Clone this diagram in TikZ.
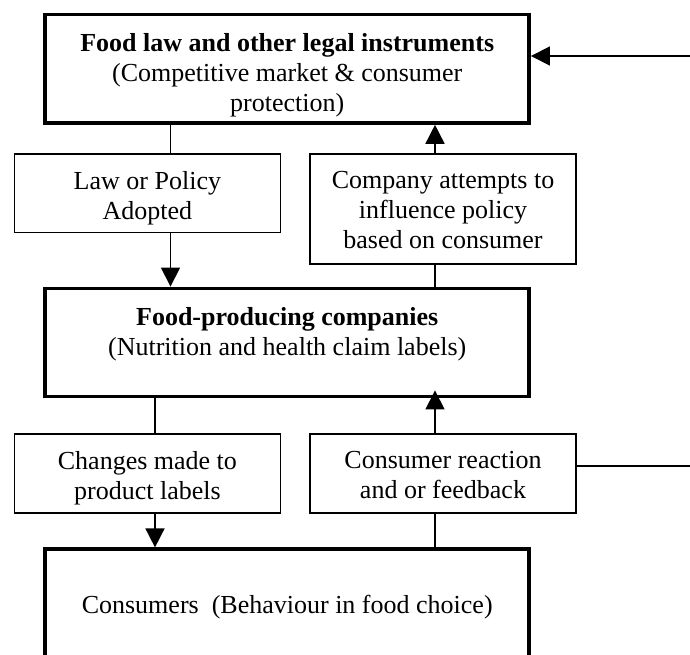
\documentclass[tikz,border=0pt]{standalone}
\usepackage{fontspec}
\setmainfont{Liberation Serif}
\usetikzlibrary{arrows.meta}

\tikzset{
  heavybox/.style={draw=black, line width=3.5pt, rectangle, inner sep=0pt, minimum width=484pt},
  lightbox/.style={draw=black, line width=1.6pt, rectangle, inner sep=0pt, minimum width=266pt},
  boxtext/.style={inner sep=0pt, anchor=north, align=center, font=\fontsize{26}{30}\selectfont},
  link/.style={draw=black, line width=1.6pt},
  pointer/.style={link, -{Triangle[length=19pt, width=19pt]}},
}

\begin{document}
\begin{tikzpicture}[x=1pt, y=-1pt]
  \clip (0,0) rectangle (690,655);
  \fill[white] (0,0) rectangle (690,655);

  % boxes
  \node[heavybox, minimum height=108.7pt] (topbox)    at (287.2, 68.7)  {};
  \node[lightbox, minimum height=78.2pt]  (law)       at (147.4, 193.4) {};
  \node[lightbox, minimum height=109.4pt] (company)   at (443.0, 209.0) {};
  \node[heavybox, minimum height=108.4pt] (food)      at (287.2, 342.5) {};
  \node[lightbox, minimum height=78.5pt]  (changes)   at (147.4, 473.5) {};
  \node[lightbox, minimum height=78.5pt]  (reaction)  at (443.0, 473.5) {};
  \node[heavybox, minimum height=108.7pt] (consumers) at (287.2, 603.5) {};

  % box texts
  \node[boxtext] (toptxt) at ([yshift=-20.3pt]topbox.north)
    {\textbf{Food law and other legal instruments}\\(Competitive market \& consumer\\protection)};
  \node[boxtext] (lawtxt) at ([yshift=-17.6pt]law.north) {Law or Policy\\Adopted};
  \node[boxtext] (companytxt) at ([yshift=-17.6pt]company.north)
    {Company attempts to\\influence policy\\based on consumer};
  \node[boxtext] (foodtxt) at ([yshift=-20.5pt]food.north)
    {\textbf{Food-producing companies}\\(Nutrition and health claim labels)};
  \node[boxtext] (changestxt) at ([yshift=-17.6pt]changes.north) {Changes made to\\product labels};
  \node[boxtext] (reactiontxt) at ([yshift=-17.6pt]reaction.north) {Consumer reaction\\and or feedback};
  \node[boxtext] (consumerstxt) at ([yshift=-47.5pt]consumers.north)
    {Consumers\ \ (Behaviour in food choice)};

  % connector columns and free ends at the right border
  \coordinate (xl) at (170.5,0);
  \coordinate (xr) at (435,0);
  \coordinate (xc) at (155,0);
  \coordinate (edgeA) at (692,56);
  \coordinate (edgeB) at (692,466);

  % connectors
  \draw[pointer] (edgeA) -- (topbox.east |- edgeA);
  \draw[link] (topbox.south -| xl) -- (law.north -| xl);
  \draw[pointer] (law.south -| xl) -- (food.north -| xl);
  \draw[pointer] (company.north -| xr) -- (topbox.south -| xr);
  \draw[link] (company.south -| xr) -- (food.north -| xr);
  \draw[link] (food.south -| xc) -- (changes.north -| xc);
  \draw[pointer] (changes.south -| xc) -- (consumers.north -| xc);
  \draw[link] (consumers.north -| xr) -- (reaction.south -| xr);
  \draw[pointer, shorten >=-8pt] (reaction.north -| xr) -- (food.south -| xr);
  \draw[link] (reaction.east |- edgeB) -- (edgeB);
\end{tikzpicture}
\end{document}
